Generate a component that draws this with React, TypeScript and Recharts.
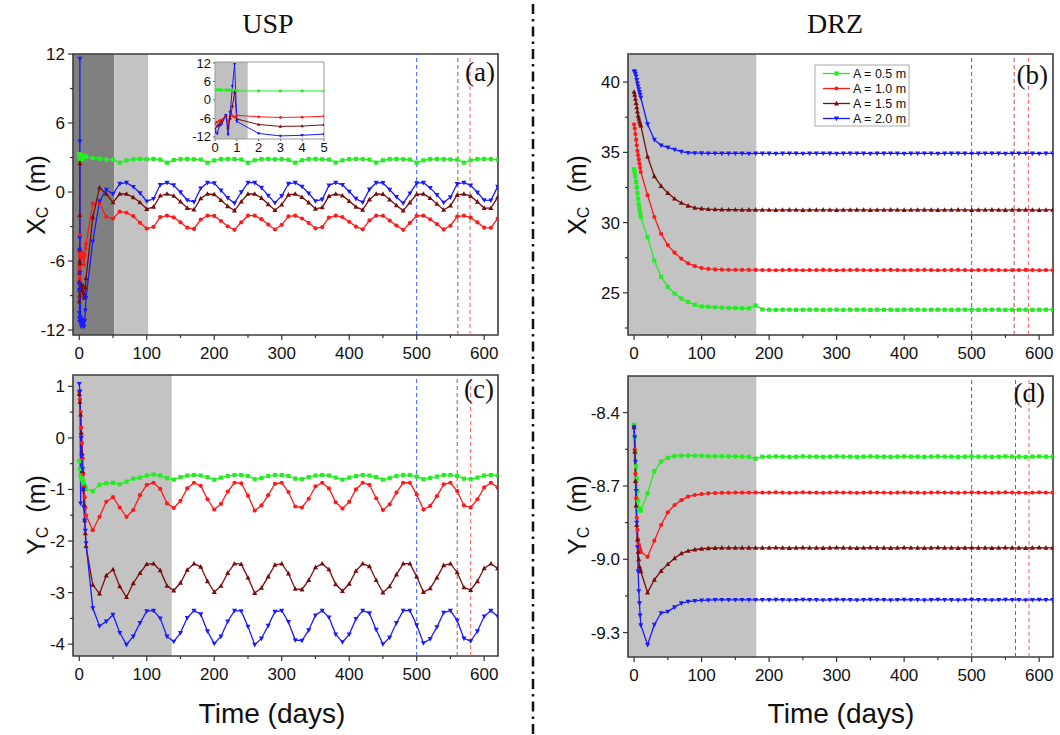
import React from "react";
import { LineChart, Line, XAxis, YAxis, ReferenceArea, ReferenceLine } from "recharts";

// sampling times (days)
const uspXcDaysEarly = [0, 0.1, 0.2, 0.3, 0.5, 0.6, 0.7, 0.8, 0.9, 1, 2, 3, 4, 5, 6, 7, 8, 9, 10];
const stepDaysEarly = [0, 1, 2, 3, 4, 5, 6, 7, 8, 9, 10];
const lateDays = [
  20, 30, 40, 50, 60, 70, 80, 90, 100, 110, 120, 130, 140, 150, 160, 170, 180, 190, 200, 210,
  220, 230, 240, 250, 260, 270, 280, 290, 300, 310, 320, 330, 340, 350, 360, 370, 380, 390, 400, 410,
  420, 430, 440, 450, 460, 470, 480, 490, 500, 510, 520, 530, 540, 550, 560, 570, 580, 590, 600, 610, 620,
];

// USP  X_C (m)
const uspXcGreenEarly = [3.2, 3.3, 3.3, 3.2, 3.2, 3.2, 3.1, 3.2, 3.0, 2.9, 2.9, 2.9, 2.9, 2.9, 3.05, 3.1, 3.15, 3.1, 3.05];
const uspXcRedEarly = [-7.8, -7.2, -6.8, -6.5, -5.2, -7.5, -3.8, -5.2, -5.6, -5.0, -5.5, -5.7, -5.6, -5.3, -5.8, -6.3, -5.5, -4.9, -4.5];
const uspXcBrownEarly = [-9.5, -8.5, -7.8, -7.0, -5.0, -9.0, -6.0, -2.0, 2.5, -6.2, -8.0, -8.6, -8.5, -8.1, -8.8, -9.2, -9.0, -8.3, -7.5];
const uspXcBlueEarly = [-10.5, -11.0, -8.5, -8.0, -5.0, -11.3, -4.0, 4.4, 11.6, -7.0, -10.9, -11.7, -11.5, -11.1, -11.6, -11.7, -11.2, -10.3, -9.2];
const uspXcGreenLate = [
  2.95, 2.9, 2.83, 2.8, 2.55,
  2.75, 2.85, 2.88, 2.85, 2.88, 2.82, 2.55, 2.78, 2.86, 2.88, 2.85, 2.82, 2.55, 2.75, 2.86, 2.88,
  2.86, 2.82, 2.55, 2.76, 2.86, 2.88, 2.85, 2.86, 2.8, 2.55, 2.76, 2.86, 2.88, 2.85, 2.82, 2.56,
  2.76, 2.86, 2.88, 2.86, 2.82, 2.56, 2.76, 2.86, 2.88, 2.85, 2.82, 2.55, 2.76, 2.86, 2.88, 2.86,
  2.84, 2.8, 2.55, 2.76, 2.86, 2.88, 2.86, 2.82,
];
const uspXcRedLate = [
  -1.0, -1.0, -2.15, -2.3, -1.7, -1.8, -2.1, -2.68,
  -3.18, -3.03, -2.18, -2.06, -2.21, -2.63, -3.1, -3.21, -2.39, -2.06,
  -2.08, -2.52, -2.98, -3.29, -2.63, -2.06, -2.06, -2.36, -2.83, -3.26,
  -2.85, -2.12, -2.06, -2.3, -2.69, -3.16, -3.06, -2.22, -2.06, -2.18,
  -2.59, -3.01, -3.24, -2.47, -2.06, -2.07, -2.48, -2.92, -3.29, -2.69,
  -2.08, -2.06, -2.37, -2.79, -3.25, -2.93, -2.13, -2.06, -2.22, -2.64,
  -3.1, -3.11, -2.3,
];
const uspXcBrownLate = [
  -2.2, 0.38, -0.17, -0.9, -0.17,
  -0.17, -0.46, -0.9, -1.48, -1.3, -0.32, -0.17, -0.34, -0.84, -1.39,
  -1.52, -0.56, -0.17, -0.2, -0.71, -1.24, -1.61, -0.84, -0.17, -0.17,
  -0.52, -1.07, -1.58, -1.1, -0.24, -0.17, -0.45, -0.91, -1.46, -1.34,
  -0.36, -0.17, -0.32, -0.79, -1.29, -1.55, -0.65, -0.17, -0.18, -0.66,
  -1.17, -1.61, -0.91, -0.2, -0.17, -0.53, -1.03, -1.56, -1.19, -0.26,
  -0.17, -0.36, -0.85, -1.39, -1.4, -0.45,
];
const uspXcBlueLate = [
  -4.3, -0.8, 0.2, -0.17, 0.72,
  0.81, 0.45, -0.09, -0.81, -0.59, 0.63, 0.81, 0.59, -0.02, -0.7,
  -0.86, 0.32, 0.81, 0.77, 0.14, -0.52, -0.97, -0.02, 0.81, 0.81,
  0.38, -0.31, -0.94, -0.34, 0.72, 0.81, 0.47, -0.11, -0.79, -0.65,
  0.58, 0.81, 0.63, 0.04, -0.58, -0.9, 0.22, 0.81, 0.79, 0.2,
  -0.43, -0.97, -0.11, 0.77, 0.81, 0.36, -0.25, -0.92, -0.45, 0.7,
  0.81, 0.58, -0.04, -0.7, -0.72, 0.47,
];

// USP  Y_C (m)
const uspYcGreenEarly = [-0.45, -0.6, -0.72, -0.76, -0.8, -0.83, -0.86, -0.9, -0.93, -0.96, -0.99];
const uspYcRedEarly = [0.9, 0.75, 0.5, 0.2, -0.1, -0.4, -0.7, -0.95, -1.15, -1.35, -1.5];
const uspYcBrownEarly = [0.85, 0.7, 0.45, 0.1, -0.3, -0.65, -1.0, -1.3, -1.6, -1.85, -2.1];
const uspYcBlueEarly = [1.05, 0.9, -1.27, 0.0, -0.35, -0.6, -1.0, -1.35, -1.6, -1.8, -2.04];
const uspYcGreenLate = [
  -1.03, -0.91, -0.88, -0.87, -0.9, -0.85, -0.79, -0.77, -0.73,
  -0.71, -0.73, -0.78, -0.81, -0.76, -0.73, -0.72, -0.73, -0.76, -0.81,
  -0.77, -0.74, -0.72, -0.72, -0.74, -0.8, -0.78, -0.74, -0.72, -0.72,
  -0.74, -0.79, -0.8, -0.76, -0.73, -0.72, -0.73, -0.77, -0.81, -0.77,
  -0.74, -0.72, -0.73, -0.76, -0.81, -0.78, -0.74, -0.72, -0.72, -0.75,
  -0.8, -0.78, -0.75, -0.72, -0.72, -0.74, -0.79, -0.8, -0.77, -0.73,
  -0.72, -0.73,
];
const uspYcRedLate = [
  -1.79, -1.53, -1.24, -1.15, -1.35, -1.53, -1.4, -1.11, -0.91,
  -0.87, -0.99, -1.27, -1.36, -1.22, -0.98, -0.87, -0.93, -1.19, -1.39,
  -1.28, -1.04, -0.87, -0.88, -1.12, -1.41, -1.31, -1.11, -0.89, -0.87,
  -1.05, -1.33, -1.35, -1.18, -0.94, -0.87, -0.98, -1.25, -1.37, -1.24,
  -1.0, -0.87, -0.91, -1.17, -1.4, -1.29, -1.06, -0.87, -0.87, -1.1,
  -1.39, -1.32, -1.13, -0.9, -0.87, -1.03, -1.31, -1.35, -1.19, -0.96,
  -0.87, -0.96,
];
const uspYcBrownLate = [
  -2.85, -3.02, -2.67, -2.55, -2.88, -3.09, -2.82, -2.62, -2.45,
  -2.44, -2.57, -2.87, -2.96, -2.81, -2.56, -2.44, -2.5, -2.78, -2.99,
  -2.87, -2.62, -2.44, -2.45, -2.71, -3.01, -2.91, -2.69, -2.46, -2.44,
  -2.63, -2.93, -2.94, -2.76, -2.51, -2.44, -2.55, -2.84, -2.97, -2.83,
  -2.58, -2.44, -2.49, -2.76, -3.0, -2.88, -2.65, -2.44, -2.44, -2.69,
  -2.99, -2.92, -2.71, -2.47, -2.44, -2.61, -2.9, -2.95, -2.78, -2.53,
  -2.44, -2.53,
];
const uspYcBlueLate = [
  -3.3, -3.65, -3.56, -3.43, -3.78, -4.01, -3.85, -3.59, -3.36,
  -3.35, -3.5, -3.85, -3.95, -3.78, -3.49, -3.35, -3.42, -3.75, -3.99,
  -3.85, -3.56, -3.35, -3.36, -3.66, -4.01, -3.89, -3.64, -3.37, -3.35,
  -3.57, -3.92, -3.93, -3.73, -3.44, -3.35, -3.48, -3.81, -3.96, -3.81,
  -3.51, -3.35, -3.4, -3.72, -4.0, -3.87, -3.59, -3.35, -3.35, -3.63,
  -3.98, -3.9, -3.67, -3.39, -3.35, -3.54, -3.89, -3.94, -3.75, -3.46,
  -3.35, -3.46,
];

// DRZ  X_C (m)
const drzXcGreenEarly = [33.8, 33.6, 33.3, 32.9, 32.5, 32.1, 31.7, 31.3, 31.0, 30.7, 30.4];
const drzXcRedEarly = [37.0, 36.7, 36.3, 35.9, 35.5, 35.1, 34.8, 34.5, 34.2, 33.9, 33.6];
const drzXcBrownEarly = [39.3, 39.1, 38.8, 38.5, 38.2, 37.9, 37.6, 37.4, 37.2, 37.05, 36.9];
const drzXcBlueEarly = [40.76, 40.76, 40.6, 40.4, 40.15, 39.9, 39.7, 39.5, 39.3, 39.1, 38.9];
const drzXcGreenLate = [
  28.97, 27.3, 26.15, 25.43, 24.95, 24.6, 24.35, 24.15, 24.04, 24.0, 23.97, 23.95, 23.93, 23.92, 23.9, 23.9, 24.1, 23.82,
  23.8, 23.79, 23.8, 23.8, 23.79, 23.8, 23.8, 23.8, 23.79, 23.8,
  23.8, 23.79, 23.8, 23.8, 23.8, 23.79, 23.8, 23.8, 23.8, 23.79,
  23.8, 23.8, 23.8, 23.79, 23.8, 23.8, 23.8, 23.79, 23.8, 23.8,
  23.8, 23.79, 23.8, 23.8, 23.8, 23.79, 23.8, 23.8, 23.8, 23.79,
  23.8, 23.8, 23.8,
];
const drzXcRedLate = [
  31.95, 30.4, 29.2, 28.4, 27.86, 27.43, 27.1, 26.9, 26.76, 26.7, 26.67, 26.65, 26.64, 26.64, 26.63, 26.63, 26.63, 26.62,
  26.62, 26.61, 26.62, 26.63, 26.62, 26.61, 26.62, 26.62, 26.63, 26.62,
  26.61, 26.62, 26.62, 26.63, 26.62, 26.61, 26.62, 26.62, 26.63, 26.62,
  26.61, 26.62, 26.62, 26.63, 26.62, 26.61, 26.62, 26.62, 26.63, 26.62,
  26.61, 26.62, 26.62, 26.63, 26.62, 26.61, 26.62, 26.62, 26.63, 26.62,
  26.61, 26.62, 26.62,
];
const drzXcBrownLate = [
  34.7, 33.3, 32.6, 32.1, 31.7, 31.4, 31.2, 31.05, 31.0, 30.96, 30.94, 30.93, 30.92, 30.92, 30.91, 30.91, 30.91, 30.9,
  30.9, 30.89, 30.9, 30.91, 30.9, 30.89, 30.9, 30.9, 30.91, 30.9,
  30.89, 30.9, 30.9, 30.91, 30.9, 30.89, 30.9, 30.9, 30.91, 30.9,
  30.89, 30.9, 30.9, 30.91, 30.9, 30.89, 30.9, 30.9, 30.91, 30.9,
  30.89, 30.9, 30.9, 30.91, 30.9, 30.89, 30.9, 30.9, 30.91, 30.9,
  30.89, 30.9, 30.9,
];
const drzXcBlueLate = [
  37.0, 35.9, 35.5, 35.35, 35.2, 35.05, 34.97, 34.95, 34.94, 34.93, 34.93, 34.92, 34.92, 34.92, 34.92, 34.91, 34.92, 34.92,
  34.92, 34.91, 34.92, 34.93, 34.92, 34.91, 34.92, 34.92, 34.93, 34.92,
  34.91, 34.92, 34.92, 34.93, 34.92, 34.91, 34.92, 34.92, 34.93, 34.92,
  34.91, 34.92, 34.92, 34.93, 34.92, 34.91, 34.92, 34.92, 34.93, 34.92,
  34.91, 34.92, 34.92, 34.93, 34.92, 34.91, 34.92, 34.92, 34.93, 34.92,
  34.91, 34.92, 34.92,
];

// DRZ  Y_C (m)
const drzYcGreenEarly = [-8.45, -8.5, -8.56, -8.62, -8.67, -8.72, -8.76, -8.79, -8.8, -8.8, -8.8];
const drzYcRedEarly = [-8.46, -8.55, -8.65, -8.75, -8.83, -8.88, -8.92, -8.94, -8.95, -8.96, -8.97];
const drzYcBrownEarly = [-8.46, -8.56, -8.68, -8.78, -8.86, -8.92, -8.97, -9.0, -9.03, -9.04, -9.05];
const drzYcBlueEarly = [-8.46, -8.5, -8.6, -8.72, -8.85, -8.95, -9.05, -9.13, -9.18, -9.23, -9.27];
const drzYcGreenLate = [
  -8.73, -8.64, -8.6, -8.585, -8.578, -8.576, -8.576, -8.576, -8.577, -8.578, -8.578, -8.578, -8.579, -8.579, -8.58, -8.581, -8.588, -8.58,
  -8.58, -8.579, -8.58, -8.581, -8.58, -8.579, -8.58, -8.58, -8.581, -8.58,
  -8.579, -8.58, -8.58, -8.581, -8.58, -8.579, -8.58, -8.58, -8.581, -8.58,
  -8.579, -8.58, -8.58, -8.581, -8.58, -8.579, -8.58, -8.58, -8.581, -8.58,
  -8.579, -8.58, -8.58, -8.581, -8.58, -8.579, -8.58, -8.58, -8.581, -8.58,
  -8.579, -8.58, -8.58,
];
const drzYcRedLate = [
  -8.99, -8.924, -8.86, -8.808, -8.778, -8.758, -8.744, -8.737, -8.733, -8.73, -8.729, -8.728, -8.728, -8.727, -8.727, -8.727, -8.727, -8.727,
  -8.727, -8.726, -8.727, -8.728, -8.727, -8.726, -8.727, -8.727, -8.728, -8.727,
  -8.726, -8.727, -8.727, -8.728, -8.727, -8.726, -8.727, -8.727, -8.728, -8.727,
  -8.726, -8.727, -8.727, -8.728, -8.727, -8.726, -8.727, -8.727, -8.728, -8.727,
  -8.726, -8.727, -8.727, -8.728, -8.727, -8.726, -8.727, -8.727, -8.728, -8.727,
  -8.726, -8.727, -8.727,
];
const drzYcBrownLate = [
  -9.136, -9.084, -9.048, -9.02, -8.996, -8.976, -8.966, -8.96, -8.957, -8.955, -8.954, -8.953, -8.953, -8.953, -8.953, -8.953, -8.953, -8.953,
  -8.953, -8.952, -8.953, -8.954, -8.953, -8.952, -8.953, -8.953, -8.954, -8.953,
  -8.952, -8.953, -8.953, -8.954, -8.953, -8.952, -8.953, -8.953, -8.954, -8.953,
  -8.952, -8.953, -8.953, -8.954, -8.953, -8.952, -8.953, -8.953, -8.954, -8.953,
  -8.952, -8.953, -8.953, -8.954, -8.953, -8.952, -8.953, -8.953, -8.954, -8.953,
  -8.952, -8.953, -8.953,
];
const drzYcBlueLate = [
  -9.35, -9.268, -9.22, -9.214, -9.196, -9.18, -9.173, -9.17, -9.168, -9.167, -9.166, -9.166, -9.166, -9.166, -9.166, -9.166, -9.166, -9.166,
  -9.166, -9.165, -9.166, -9.167, -9.166, -9.165, -9.166, -9.166, -9.167, -9.166,
  -9.165, -9.166, -9.166, -9.167, -9.166, -9.165, -9.166, -9.166, -9.167, -9.166,
  -9.165, -9.166, -9.166, -9.167, -9.166, -9.165, -9.166, -9.166, -9.167, -9.166,
  -9.165, -9.166, -9.166, -9.167, -9.166, -9.165, -9.166, -9.166, -9.167, -9.166,
  -9.165, -9.166, -9.166,
];

const SERIES = [
  { key: "g", name: "A = 0.5 m", color: "#22ee22", shape: "square" },
  { key: "r", name: "A = 1.0 m", color: "#ff1a1a", shape: "circle" },
  { key: "br", name: "A = 1.5 m", color: "#7a0c0c", shape: "up" },
  { key: "b", name: "A = 2.0 m", color: "#1a1aff", shape: "down" },
];

const rows = (days: number[], g: number[], r: number[], br: number[], b: number[]) =>
  days.map((t, i) => ({ t, g: g[i], r: r[i], br: br[i], b: b[i] }));

const uspXcData = rows(
  [...uspXcDaysEarly, ...lateDays],
  [...uspXcGreenEarly, ...uspXcGreenLate],
  [...uspXcRedEarly, ...uspXcRedLate],
  [...uspXcBrownEarly, ...uspXcBrownLate],
  [...uspXcBlueEarly, ...uspXcBlueLate]
);
const stepDays = [...stepDaysEarly, ...lateDays];
const uspYcData = rows(stepDays, [...uspYcGreenEarly, ...uspYcGreenLate], [...uspYcRedEarly, ...uspYcRedLate], [...uspYcBrownEarly, ...uspYcBrownLate], [...uspYcBlueEarly, ...uspYcBlueLate]);
const drzXcData = rows(stepDays, [...drzXcGreenEarly, ...drzXcGreenLate], [...drzXcRedEarly, ...drzXcRedLate], [...drzXcBrownEarly, ...drzXcBrownLate], [...drzXcBlueEarly, ...drzXcBlueLate]);
const drzYcData = rows(stepDays, [...drzYcGreenEarly, ...drzYcGreenLate], [...drzYcRedEarly, ...drzYcRedLate], [...drzYcBrownEarly, ...drzYcBrownLate], [...drzYcBlueEarly, ...drzYcBlueLate]);
const insetData = uspXcData.filter((d) => d.t <= 5);

const xMajor = [0, 100, 200, 300, 400, 500, 600];
const xMinor = [50, 150, 250, 350, 450, 550];

const SANS = "'Liberation Sans', Arial, sans-serif";
const SERIF = "'Liberation Serif', 'DejaVu Serif', serif";

const near = (v: number, list: number[]) => list.some((m) => Math.abs(m - v) < 1e-6);

function Marker({ shape, cx, cy, color, s }: any) {
  if (cx == null || cy == null || isNaN(cy)) return null;
  if (shape === "square") return <rect x={cx - s} y={cy - s} width={2 * s} height={2 * s} fill={color} />;
  if (shape === "circle") return <circle cx={cx} cy={cy} r={s} fill={color} />;
  if (shape === "up")
    return <polygon points={`${cx},${cy - s * 1.3} ${cx - s * 1.2},${cy + s * 0.9} ${cx + s * 1.2},${cy + s * 0.9}`} fill={color} />;
  return <polygon points={`${cx},${cy + s * 1.3} ${cx - s * 1.2},${cy - s * 0.9} ${cx + s * 1.2},${cy - s * 0.9}`} fill={color} />;
}

function XTick({ x, y, payload, major, off, fs }: any) {
  const isMajor = near(payload.value, major);
  const y0 = y - off;
  return (
    <g>
      <line x1={x} x2={x} y1={y0} y2={y0 + (isMajor ? 5 : 3)} stroke="#333" strokeWidth={1.2} />
      {isMajor && (
        <text x={x} y={y} dy="0.71em" textAnchor="middle" fontSize={fs} fontFamily={SANS} fill="#111">
          {payload.value}
        </text>
      )}
    </g>
  );
}

function YTick({ x, y, payload, major, off, fs, fmt }: any) {
  const isMajor = near(payload.value, major);
  const x0 = x + off;
  return (
    <g>
      <line x1={x0} x2={x0 - (isMajor ? 5 : 3)} y1={y} y2={y} stroke="#333" strokeWidth={1.2} />
      {isMajor && (
        <text x={x} y={y} dy="0.35em" textAnchor="end" fontSize={fs} fontFamily={SANS} fill="#111">
          {fmt ? fmt(payload.value) : payload.value}
        </text>
      )}
    </g>
  );
}

type PanelCfg = {
  rect: { x: number; y: number; w: number; h: number };
  data: any[];
  xDomain: [number, number];
  yDomain: [number, number];
  yMajor: number[];
  yMinor: number[];
  shades: { to: number; fill: string }[];
  vlines: number[];
  fmt?: (v: number) => string;
};

const VCOLORS = ["#3a5bff", "#b34d4d", "#ff5a5a"];

function Panel({ cfg }: { cfg: PanelCfg }) {
  const L = 60, T = 10, R = 15, B = 40;
  const { rect, xDomain, yDomain } = cfg;
  let from = xDomain[0];
  return (
    <div style={{ position: "absolute", left: rect.x - L, top: rect.y - T }}>
      <LineChart width={rect.w + L + R} height={rect.h + T + B} data={cfg.data} margin={{ top: T, right: R, bottom: 0, left: 0 }}>
        <XAxis
          type="number"
          dataKey="t"
          domain={xDomain}
          allowDataOverflow
          ticks={[...xMajor, ...xMinor].sort((a, b) => a - b)}
          interval={0}
          height={B}
          tickSize={5}
          tickMargin={7}
          axisLine={false}
          tickLine={false}
          tick={(p: any) => <XTick {...p} major={xMajor} off={12} fs={17} />}
        />
        <YAxis
          type="number"
          domain={yDomain}
          allowDataOverflow
          ticks={[...cfg.yMajor, ...cfg.yMinor].sort((a, b) => a - b)}
          interval={0}
          width={L}
          tickSize={5}
          tickMargin={3}
          axisLine={false}
          tickLine={false}
          tick={(p: any) => <YTick {...p} major={cfg.yMajor} off={8} fs={17} fmt={cfg.fmt} />}
        />
        {cfg.shades.map((s, i) => {
          const el = (
            <ReferenceArea key={"s" + i} x1={from} x2={s.to} y1={yDomain[0]} y2={yDomain[1]} fill={s.fill} fillOpacity={1} stroke="none" ifOverflow="visible" />
          );
          from = s.to;
          return el;
        })}
        {cfg.vlines.map((v, i) => (
          <ReferenceLine key={"v" + i} x={v} stroke={VCOLORS[i]} strokeWidth={1} strokeDasharray="4 3" />
        ))}
        {SERIES.map((s) => (
          <Line
            key={s.key}
            dataKey={s.key}
            stroke={s.color}
            strokeWidth={1.3}
            isAnimationActive={false}
            connectNulls
            activeDot={false}
            dot={(p: any) => <Marker key={p.index} shape={s.shape} cx={p.cx} cy={p.cy} color={s.color} s={2.1} />}
          />
        ))}
        <ReferenceArea x1={xDomain[0]} x2={xDomain[1]} y1={yDomain[0]} y2={yDomain[1]} fill="none" stroke="#3c3c3c" strokeWidth={1.6} ifOverflow="visible" />
      </LineChart>
    </div>
  );
}

function Inset() {
  const rect = { x: 215, y: 62, w: 109, h: 77 };
  const L = 30, T = 10, R = 4, B = 18;
  const xD: [number, number] = [0, 5];
  const yD: [number, number] = [-12.7, 12.3];
  return (
    <div style={{ position: "absolute", left: rect.x - L, top: rect.y - T }}>
      <LineChart width={rect.w + L + R} height={rect.h + T + B} data={insetData} margin={{ top: T, right: R, bottom: 0, left: 0 }}>
        <XAxis
          type="number"
          dataKey="t"
          domain={xD}
          allowDataOverflow
          ticks={[0, 1, 2, 3, 4, 5]}
          interval={0}
          height={B}
          tickSize={2}
          tickMargin={2}
          axisLine={false}
          tick={{ fontSize: 13, fontFamily: SANS, fill: "#111" }}
          tickLine={{ stroke: "#666" }}
        />
        <YAxis
          type="number"
          domain={yD}
          allowDataOverflow
          ticks={[-12, -6, 0, 6, 12]}
          interval={0}
          width={L}
          tickSize={2}
          tickMargin={2}
          axisLine={false}
          tick={{ fontSize: 13, fontFamily: SANS, fill: "#111" }}
          tickLine={{ stroke: "#666" }}
        />
        <ReferenceArea x1={0} x2={1.5} y1={yD[0]} y2={yD[1]} fill="#c0c0c0" fillOpacity={1} stroke="none" ifOverflow="visible" />
        {SERIES.map((s) => (
          <Line
            key={s.key}
            dataKey={s.key}
            stroke={s.color}
            strokeWidth={1}
            isAnimationActive={false}
            connectNulls
            activeDot={false}
            dot={(p: any) => <Marker key={p.index} shape={s.shape} cx={p.cx} cy={p.cy} color={s.color} s={1.4} />}
          />
        ))}
        <ReferenceArea x1={xD[0]} x2={xD[1]} y1={yD[0]} y2={yD[1]} fill="none" stroke="#999" strokeWidth={1} ifOverflow="visible" />
      </LineChart>
    </div>
  );
}

const panels: PanelCfg[] = [
  {
    rect: { x: 73, y: 54, w: 425, h: 281 },
    data: uspXcData,
    xDomain: [-9.3, 620.5],
    yDomain: [-12.43, 12],
    yMajor: [-12, -6, 0, 6, 12],
    yMinor: [-9, -3, 3, 9],
    shades: [{ to: 52, fill: "#808080" }, { to: 102, fill: "#c3c3c3" }],
    vlines: [500, 561, 579],
  },
  {
    rect: { x: 73, y: 375, w: 425, h: 281 },
    data: uspYcData,
    xDomain: [-9.3, 620.5],
    yDomain: [-4.23, 1.22],
    yMajor: [-4, -3, -2, -1, 0, 1],
    yMinor: [-3.5, -2.5, -1.5, -0.5, 0.5],
    shades: [{ to: 137, fill: "#c3c3c3" }],
    vlines: [500, 560, 580],
  },
  {
    rect: { x: 628, y: 54, w: 425, h: 281 },
    data: drzXcData,
    xDomain: [-9, 620.5],
    yDomain: [22, 42],
    yMajor: [25, 30, 35, 40],
    yMinor: [22.5, 27.5, 32.5, 37.5],
    shades: [{ to: 181, fill: "#c3c3c3" }],
    vlines: [500, 563, 584],
  },
  {
    rect: { x: 628, y: 376, w: 425, h: 281 },
    data: drzYcData,
    xDomain: [-9, 620.5],
    yDomain: [-9.4, -8.25],
    yMajor: [-9.3, -9.0, -8.7, -8.4],
    yMinor: [-9.15, -8.85, -8.55],
    shades: [{ to: 181, fill: "#c3c3c3" }],
    vlines: [500, 565, 585],
    fmt: (v: number) => v.toFixed(1),
  },
];

function AxisTitle({ x, y, sym }: { x: number; y: number; sym: string }) {
  return (
    <text transform={`rotate(-90 ${x} ${y})`} x={x} y={y} textAnchor="middle" dominantBaseline="central" fontSize={25} fontFamily={SANS} fill="#111">
      {sym}
      <tspan fontSize={16} dy={6}>C</tspan>
      <tspan dy={-6}>{"\u00a0 (m)"}</tspan>
    </text>
  );
}

function Legend() {
  const x = 815, y = 65;
  return (
    <g>
      <rect x={x} y={y} width={94} height={61} fill="#fff" stroke="#aaa" strokeWidth={1} />
      {SERIES.map((s, i) => {
        const cy = y + 8.5 + i * 15;
        return (
          <g key={s.key}>
            <line x1={x + 8} x2={x + 35} y1={cy} y2={cy} stroke={s.color} strokeWidth={1.3} />
            <Marker shape={s.shape} cx={x + 21.5} cy={cy} color={s.color} s={2.1} />
            <text x={x + 38} y={cy} dy="0.35em" fontSize={12.5} fontFamily={SANS} fill="#111">
              {s.name}
            </text>
          </g>
        );
      })}
    </g>
  );
}

export default function App() {
  return (
    <div style={{ position: "absolute", left: 0, top: 0, width: 1060, height: 735, background: "#fff", overflow: "hidden" }}>
      {panels.map((p, i) => (
        <Panel key={i} cfg={p} />
      ))}
      <Inset />
      <svg width={1060} height={735} style={{ position: "absolute", left: 0, top: 0, pointerEvents: "none" }}>
        <text x={268} y={33} textAnchor="middle" fontSize={28} fontFamily={SERIF} fill="#111">USP</text>
        <text x={835} y={33} textAnchor="middle" fontSize={28} fontFamily={SERIF} fill="#111">DRZ</text>
        <line x1={533} x2={533} y1={4} y2={735} stroke="#111" strokeWidth={2.5} strokeDasharray="10 5 2.5 5" />
        <AxisTitle x={36} y={195} sym="X" />
        <AxisTitle x={577} y={195} sym="X" />
        <AxisTitle x={36} y={515} sym="Y" />
        <AxisTitle x={577} y={515} sym="Y" />
        <text x={272} y={723} textAnchor="middle" fontSize={28} fontFamily={SANS} fill="#111">Time (days)</text>
        <text x={841} y={723} textAnchor="middle" fontSize={28} fontFamily={SANS} fill="#111">Time (days)</text>
        <text x={495} y={81} textAnchor="end" fontSize={27} fontFamily={SERIF} fill="#111">(a)</text>
        <text x={1048} y={84} textAnchor="end" fontSize={27} fontFamily={SERIF} fill="#111">(b)</text>
        <text x={494} y={398} textAnchor="end" fontSize={27} fontFamily={SERIF} fill="#111">(c)</text>
        <text x={1045} y={402} textAnchor="end" fontSize={27} fontFamily={SERIF} fill="#111">(d)</text>
        <Legend />
      </svg>
    </div>
  );
}
